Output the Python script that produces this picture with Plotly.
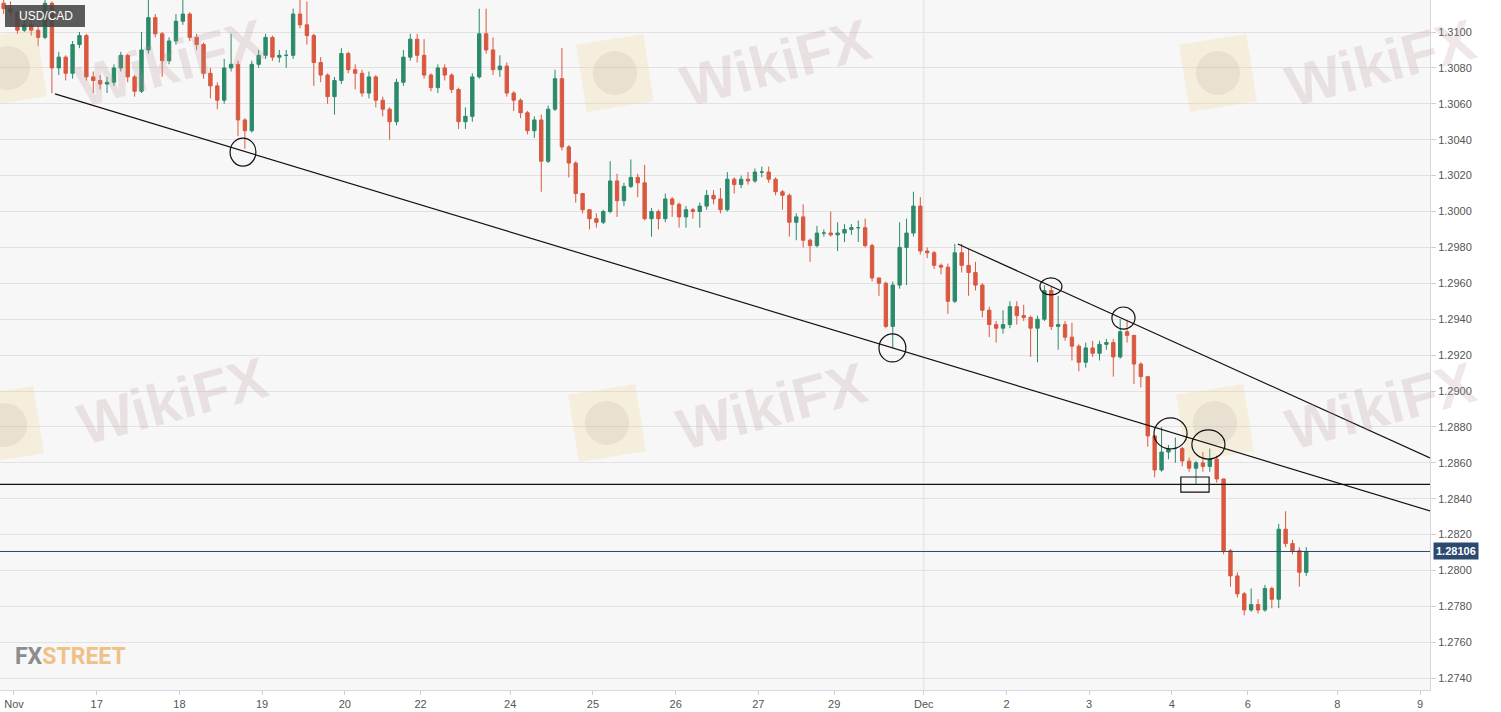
import math
import plotly.graph_objects as go

# ---------------- data ----------------
pair_label = "USD/CAD"
last_price = 1.28106
support_level = 1.2848

# start hour of each 2-hour candle, counted in trading hours from Mon Nov 16 00:00 (weekends removed)
bin_start_hours = list(range(-4, 376, 2))

# prices coded as the last four decimals: 3085 -> 1.3085
open_first = 3116
close_pts = [
    3113, 3111, 3101, 3104, 3101, 3097, 3116, 3080, 3086, 3077,
    3093, 3098, 3075, 3073, 3071, 3072, 3080, 3087, 3075, 3067,
    3090, 3108, 3099, 3084, 3095, 3106, 3110, 3097, 3093, 3077,
    3070, 3062, 3080, 3082, 3051, 3045, 3082, 3087, 3097, 3086,
    3087, 3087, 3110, 3104, 3098, 3083, 3076, 3064, 3073, 3088,
    3079, 3077, 3066, 3075, 3062, 3057, 3050, 3072, 3086, 3096,
    3087, 3076, 3069, 3080, 3076, 3068, 3050, 3053, 3075, 3099,
    3090, 3079, 3081, 3066, 3062, 3055, 3045, 3051, 3028, 3057,
    3074, 3036, 3027, 3010, 3001, 2996, 2994, 3000, 3017, 3006,
    3014, 3019, 3016, 2996, 3000, 2996, 3007, 3004, 2997, 3001,
    3000, 3003, 3009, 3007, 3001, 3018, 3015, 3018, 3017, 3022,
    3022, 3018, 3011, 3009, 2994, 2997, 2984, 2981, 2988, 2988,
    2987, 2988, 2990, 2991, 2991, 2981, 2963, 2960, 2936, 2959,
    2980, 2988, 3003, 2978, 2977, 2970, 2969, 2950, 2977, 2970,
    2966, 2959, 2945, 2937, 2935, 2937, 2947, 2942, 2941, 2935,
    2940, 2956, 2936, 2937, 2930, 2925, 2916, 2924, 2921, 2926,
    2927, 2919, 2933, 2931, 2915, 2908, 2875, 2856, 2866, 2868,
    2868, 2861, 2857, 2860, 2858, 2862, 2851, 2811, 2797, 2787,
    2778, 2781, 2778, 2790, 2784, 2823, 2815, 2811, 2799, 2810.6,
]
high_pts = [
    3118, 3117, 3112, 3107, 3108, 3103, 3118, 3117, 3089, 3087,
    3095, 3100, 3099, 3078, 3076, 3075, 3082, 3089, 3088, 3076,
    3100, 3118, 3110, 3100, 3097, 3110, 3118, 3111, 3099, 3094,
    3080, 3072, 3085, 3099, 3084, 3052, 3084, 3090, 3099, 3098,
    3090, 3090, 3113, 3118, 3117, 3099, 3086, 3077, 3075, 3091,
    3089, 3082, 3079, 3078, 3076, 3064, 3058, 3074, 3090, 3099,
    3099, 3096, 3077, 3082, 3082, 3077, 3069, 3058, 3077, 3113,
    3113, 3097, 3087, 3083, 3067, 3063, 3056, 3053, 3054, 3059,
    3079, 3091, 3037, 3028, 3008, 3001, 2999, 3001, 3028, 3021,
    3016, 3029, 3021, 3026, 3002, 3001, 3010, 3008, 3005, 3003,
    3002, 3005, 3012, 3012, 3013, 3022, 3019, 3020, 3022, 3024,
    3025, 3025, 3019, 3012, 3010, 2999, 3004, 2985, 2992, 2990,
    3000, 2994, 2993, 2993, 2995, 2996, 2982, 2963, 2961, 2961,
    2994, 2996, 3011, 3008, 2980, 2978, 2971, 2971, 2982, 2982,
    2979, 2972, 2960, 2947, 2939, 2945, 2950, 2950, 2948, 2942,
    2942, 2959, 2958, 2953, 2939, 2938, 2926, 2927, 2928, 2928,
    2929, 2929, 2940, 2939, 2928, 2916, 2898, 2870, 2880, 2870,
    2874, 2869, 2863, 2861, 2866, 2868, 2864, 2851, 2812, 2799,
    2788, 2790, 2784, 2792, 2791, 2826, 2833, 2817, 2813, 2813,
]
low_pts = [
    3110, 3108, 3099, 3100, 3098, 3092, 3096, 3066, 3076, 3073,
    3074, 3091, 3073, 3066, 3068, 3066, 3070, 3078, 3072, 3064,
    3066, 3088, 3097, 3075, 3082, 3093, 3104, 3095, 3090, 3074,
    3063, 3057, 3060, 3078, 3042, 3035, 3044, 3080, 3085, 3084,
    3083, 3080, 3085, 3102, 3093, 3070, 3072, 3060, 3054, 3071,
    3077, 3068, 3064, 3063, 3058, 3053, 3040, 3048, 3070, 3084,
    3083, 3074, 3067, 3066, 3073, 3066, 3046, 3046, 3050, 3074,
    3088, 3076, 3075, 3064, 3056, 3052, 3043, 3041, 3011, 3027,
    3056, 3034, 3019, 3005, 2999, 2990, 2991, 2993, 2999, 2997,
    3003, 3013, 3008, 2995, 2986, 2990, 2994, 2997, 2991, 2991,
    2996, 2991, 3001, 3004, 2999, 3000, 3010, 3013, 3015, 3016,
    3019, 3016, 3009, 3001, 2986, 2984, 2980, 2972, 2980, 2986,
    2986, 2978, 2983, 2987, 2983, 2980, 2961, 2953, 2935, 2924,
    2957, 2959, 2986, 2976, 2974, 2968, 2965, 2943, 2949, 2966,
    2953, 2956, 2941, 2930, 2927, 2932, 2935, 2937, 2939, 2919,
    2916, 2939, 2934, 2923, 2928, 2917, 2911, 2913, 2919, 2917,
    2923, 2908, 2918, 2927, 2904, 2902, 2869, 2852, 2855, 2862,
    2860, 2858, 2855, 2848, 2855, 2855, 2849, 2809, 2791, 2785,
    2775, 2777, 2776, 2777, 2779, 2779, 2813, 2809, 2791, 2797,
]

tick_hours = [0, 24, 48, 72, 96, 118, 144, 168, 192, 216, 238, 264, 288, 312, 336, 358, 384, 408]
tick_text = ["Nov", "17", "18", "19", "20", "22", "24", "25", "26", "27", "29",
             "Dec", "2", "3", "4", "6", "8", "9"]
month_start_hour = 264

# drawn analysis: trend lines (hour0, price0, hour1, price1)
trend_lines = [
    (11.9, 1.30655, 410.9, 1.28332),
    (273.9, 1.29819, 410.9, 1.28627),
]
# touch circles (hour0, hour1, price_low, price_high)
touch_circles = [
    (62.7, 70.2, 1.30253, 1.30409),
    (251.0, 258.8, 1.29162, 1.29318),
    (297.7, 304.1, 1.29535, 1.29630),
    (318.6, 325.3, 1.29345, 1.29468),
    (330.8, 340.4, 1.28677, 1.28850),
    (341.8, 351.4, 1.28621, 1.28783),
]
support_box = (338.6, 346.8, 1.28437, 1.28521)

x_range = [-4.06, 410.9]
y_range = [1.273343, 1.311783]

# ---------------- build ----------------
def to_price(v):
    return 1 + v / 10000.0

closes = [to_price(v) for v in close_pts]
opens = [to_price(open_first)] + closes[:-1]
highs = [max(to_price(h), o, c) for h, o, c in zip(high_pts, opens, closes)]
lows = [min(to_price(l), o, c) for l, o, c in zip(low_pts, opens, closes)]
x_centers = [h + 1 for h in bin_start_hours]

UP = "#2b8a6a"
DOWN = "#d9583f"

fig = go.Figure()
fig.add_trace(go.Candlestick(
    x=x_centers, open=opens, high=highs, low=lows, close=closes,
    increasing=dict(line=dict(color=UP, width=1), fillcolor=UP),
    decreasing=dict(line=dict(color=DOWN, width=1), fillcolor=DOWN),
    whiskerwidth=0, showlegend=False, hoverinfo="skip",
))

W, H = 1501, 712
PL, PR, PT, PB = 0, 1430, 0, 690


def pxp(x):
    return (x - PL) / (PR - PL)


def pyp(y):
    return 1 - (y - PT) / (PB - PT)


shapes = []
# month separator
shapes.append(dict(type="line", xref="x", yref="paper", x0=month_start_hour, x1=month_start_hour,
                   y0=0, y1=1, line=dict(color="#e2e2e2", width=1), layer="below"))


def logo(cx, cy, size=68, ang=9):
    a = math.radians(ang)
    pts = []
    h = size / 2
    for dx, dy in [(-h, -h), (h, -h), (h, h), (-h, h)]:
        x = cx + dx * math.cos(a) + dy * math.sin(a)
        y = cy - dx * math.sin(a) + dy * math.cos(a)
        pts.append((pxp(x), pyp(y)))
    path = "M {} {} L {} {} L {} {} L {} {} Z".format(*[c for p in pts for c in p])
    out = [dict(type="path", xref="paper", yref="paper", path=path,
                fillcolor="rgba(245,205,120,0.20)", line=dict(width=0), layer="above")]
    r = 22
    out.append(dict(type="circle", xref="paper", yref="paper",
                    x0=pxp(cx - r), x1=pxp(cx + r), y0=pyp(cy + r), y1=pyp(cy - r),
                    fillcolor="rgba(150,145,145,0.14)", line=dict(width=0), layer="above"))
    return out


logo_centers = [(8, 68), (615, 73), (1218, 73), (5, 425), (607, 423), (1215, 423)]
for cx, cy in logo_centers:
    shapes += logo(cx, cy)

# horizontal levels
shapes.append(dict(type="line", xref="paper", yref="y", x0=0, x1=1, y0=support_level, y1=support_level,
                   line=dict(color="#111111", width=1.2)))
shapes.append(dict(type="line", xref="paper", yref="y", x0=0, x1=1, y0=last_price, y1=last_price,
                   line=dict(color="#2c4a6e", width=1)))
for x0, y0, x1, y1 in trend_lines:
    shapes.append(dict(type="line", xref="x", yref="y", x0=x0, y0=y0, x1=x1, y1=y1,
                       line=dict(color="#111111", width=1.2)))
for x0, x1, y0, y1 in touch_circles:
    shapes.append(dict(type="circle", xref="x", yref="y", x0=x0, x1=x1, y0=y0, y1=y1,
                       line=dict(color="#111111", width=1.2)))
bx0, bx1, by0, by1 = support_box
shapes.append(dict(type="rect", xref="x", yref="y", x0=bx0, x1=bx1, y0=by0, y1=by1,
                   line=dict(color="#111111", width=1.2)))
# pair label box
shapes.append(dict(type="rect", xref="paper", yref="paper", x0=pxp(5), x1=pxp(85), y0=pyp(27), y1=pyp(5),
                   fillcolor="rgba(70,70,70,0.88)", line=dict(width=0)))

annotations = []
wm_text_centers = [(170, 62), (775, 62), (1380, 62), (172, 400), (772, 405), (1380, 405)]
for cx, cy in wm_text_centers:
    annotations.append(dict(x=pxp(cx), y=pyp(cy), xref="paper", yref="paper", text="<b>WikiFX</b>",
                            showarrow=False, textangle=-15,
                            font=dict(family="Liberation Sans", size=58, color="rgba(185,150,150,0.22)"),
                            xanchor="center", yanchor="middle"))
annotations.append(dict(x=pxp(17), y=pyp(16), xref="paper", yref="paper", text=pair_label,
                        showarrow=False, xanchor="left", yanchor="middle",
                        font=dict(family="Liberation Sans", size=12, color="white")))
annotations.append(dict(x=pxp(13), y=pyp(656), xref="paper", yref="paper",
                        text="<b><span style='color:#8c8c8c'>FX</span><span style='color:#f0c186'>STREET</span></b>",
                        showarrow=False, xanchor="left", yanchor="middle",
                        font=dict(family="Roboto", size=23, color="#8c8c8c")))
annotations.append(dict(x=pxp(1433), y=last_price, xref="paper", yref="y",
                        text="<b>%.5f</b>" % last_price, showarrow=False, xanchor="left", yanchor="middle",
                        bgcolor="#2c4a6e", borderpad=2,
                        font=dict(family="Liberation Sans", size=11, color="white")))

fig.update_layout(
    width=W, height=H,
    margin=dict(l=PL, r=W - PR, t=PT, b=H - PB, pad=0),
    paper_bgcolor="white", plot_bgcolor="#f7f7f7",
    shapes=shapes, annotations=annotations,
    showlegend=False,
    xaxis=dict(range=x_range, tickvals=tick_hours, ticktext=tick_text, showgrid=False, zeroline=False,
               ticks="outside", ticklen=4, tickcolor="#cfcfcf", showline=True, linecolor="#d6d6e2",
               mirror=True, rangeslider=dict(visible=False),
               tickfont=dict(family="Liberation Sans", size=11, color="#555555")),
    yaxis=dict(range=y_range, side="right", dtick=0.002, tick0=1.274, tickformat=".4f",
               showgrid=True, gridcolor="#e2e2e2", gridwidth=1, zeroline=False,
               ticks="outside", ticklen=5, tickcolor="#cfcfcf", showline=True, linecolor="#d6d6e2",
               mirror=True,
               tickfont=dict(family="Liberation Sans", size=11, color="#555555")),
)

fig.write_html("out.html", config={"displayModeBar": False},
               post_script="document.body.style.margin='0';document.body.style.overflow='hidden';")
